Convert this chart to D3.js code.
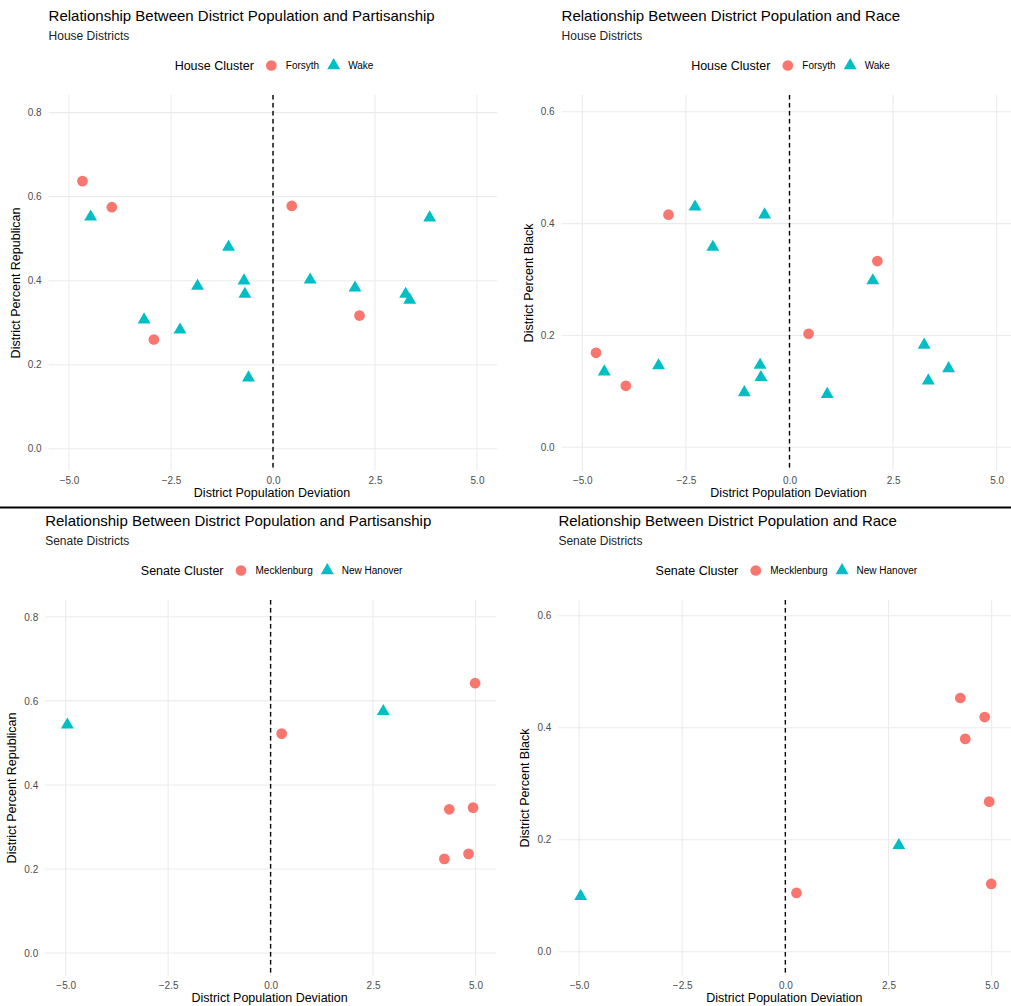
<!DOCTYPE html>
<html>
<head>
<meta charset="utf-8">
<script src="https://cdn.jsdelivr.net/npm/d3@7"></script>
<style>
  body { margin: 0; background: #fff; }
  svg { display: block; font-family: "Liberation Sans", Arial, Helvetica, sans-serif; }
</style>
</head>
<body>
<div id="chart"></div>
<script>
// house clusters: population deviation (%) and district shares
const houseForsythDev   = [-4.67, -3.95, -2.92, 0.46, 2.12];
const houseForsythRep   = [0.637, 0.575, 0.260, 0.578, 0.317];
const houseForsythBlack = [0.169, 0.110, 0.416, 0.203, 0.333];

const houseWakeDev   = [-4.47, -3.16, -2.28, -1.85, -1.09, -0.71, -0.69, -0.60, 0.91, 2.01, 3.25, 3.35, 3.84];
const houseWakeRep   = [0.552, 0.307, 0.283, 0.387, 0.480, 0.400, 0.368, 0.169, 0.402, 0.383, 0.368, 0.354, 0.550];
const houseWakeBlack = [0.135, 0.146, 0.430, 0.358, 0.098, 0.147, 0.125, 0.416, 0.095, 0.298, 0.183, 0.119, 0.141];

// senate clusters
const senateMeckDev   = [0.27, 4.24, 4.36, 4.83, 4.94, 4.99];
const senateMeckRep   = [0.522, 0.224, 0.342, 0.236, 0.346, 0.642];
const senateMeckBlack = [0.105, 0.453, 0.380, 0.419, 0.268, 0.121];

const senateHanDev   = [-4.96, 2.75];
const senateHanRep   = [0.543, 0.575];
const senateHanBlack = [0.099, 0.190];

const xTicks = [-5, -2.5, 0, 2.5, 5];
const repTicks = [0, 0.2, 0.4, 0.6, 0.8];
const blackTicks = [0, 0.2, 0.4, 0.6];

const W = 1011, H = 1006;
const RED = "#F8766D", TEAL = "#00BFC4";

const svg = d3.select("#chart").append("svg")
  .attr("width", W)
  .attr("height", H);

const zip = (xs, ys) => xs.map((x, i) => ({ x: x, y: ys[i] }));

const fmt = d3.format(".1f");

const drawPanel = (p) => {
  const g = svg.append("g").attr("transform", "translate(0," + p.dy + ")");

  const x = d3.scaleLinear().domain([-5.5, 5.5]).range(p.xRange);
  const y = d3.scaleLinear().domain(p.yDomain).range([471, 95]);
  const L = p.xRange[0], R = p.xRange[1];

  // grid
  g.append("g").selectAll("line.h")
    .data(p.yTicks).enter().append("line")
    .attr("x1", L).attr("x2", R)
    .attr("y1", d => y(d)).attr("y2", d => y(d))
    .attr("stroke", "#EBEBEB").attr("stroke-width", 1.1);
  g.append("g").selectAll("line.v")
    .data(xTicks).enter().append("line")
    .attr("x1", d => x(d)).attr("x2", d => x(d))
    .attr("y1", 95).attr("y2", 471)
    .attr("stroke", "#EBEBEB").attr("stroke-width", 1.1);

  // axes, text only
  const xAxis = d3.axisBottom(x).tickValues(xTicks).tickFormat(fmt).tickSize(0).tickPadding(6);
  const gx = g.append("g").attr("transform", "translate(0,471)").call(xAxis);
  gx.select(".domain").remove();
  gx.selectAll("text").attr("font-size", 10).attr("fill", "#4D4D4D").attr("font-family", null);

  const yAxis = d3.axisLeft(y).tickValues(p.yTicks).tickFormat(fmt).tickSize(0).tickPadding(7);
  const gy = g.append("g").attr("transform", "translate(" + L + ",0)").call(yAxis);
  gy.select(".domain").remove();
  gy.selectAll("text").attr("font-size", 10).attr("fill", "#4D4D4D").attr("font-family", null);

  // zero reference
  g.append("line")
    .attr("x1", x(0)).attr("x2", x(0))
    .attr("y1", 95).attr("y2", 471)
    .attr("stroke", "#000").attr("stroke-width", 1.4)
    .attr("stroke-dasharray", "4.5,3.5");

  // points
  const red = zip(p.groups[0].dev, p.groups[0].val);
  const teal = zip(p.groups[1].dev, p.groups[1].val);

  g.append("g").selectAll("path")
    .data(red).enter().append("path")
    .attr("d", d3.symbol(d3.symbolCircle, 90))
    .attr("transform", d => "translate(" + x(d.x) + "," + y(d.y) + ")")
    .attr("fill", RED);

  g.append("g").selectAll("path")
    .data(teal).enter().append("path")
    .attr("d", d3.symbol(d3.symbolTriangle, 72))
    .attr("transform", d => "translate(" + x(d.x) + "," + y(d.y) + ")")
    .attr("fill", TEAL);

  // titles
  g.append("text").text(p.title)
    .attr("x", L).attr("y", 21)
    .attr("font-size", 15).attr("fill", "#000");
  g.append("text").text(p.subtitle)
    .attr("x", L).attr("y", 39.5)
    .attr("font-size", 12).attr("fill", "#222");

  g.append("text").text("District Population Deviation")
    .attr("x", (L + R) / 2 - 1).attr("y", 497)
    .attr("text-anchor", "middle")
    .attr("font-size", 12.5).attr("fill", "#000");

  g.append("text").text(p.yLabel)
    .attr("transform", "translate(" + (L - 29) + "," + 283 + ") rotate(-90)")
    .attr("text-anchor", "middle")
    .attr("font-size", 12.5).attr("fill", "#000");

  // legend
  const leg = g.append("g");
  const lt = leg.append("text").text(p.legendTitle)
    .attr("y", 70).attr("font-size", 12.5).attr("fill", "#000");
  let cx = lt.node().getComputedTextLength() + 9;
  p.groups.forEach((grp, i) => {
    leg.append("path")
      .attr("d", d3.symbol(i === 0 ? d3.symbolCircle : d3.symbolTriangle, i === 0 ? 90 : 72))
      .attr("transform", "translate(" + (cx + 8.5) + "," + 65.5 + ")")
      .attr("fill", i === 0 ? RED : TEAL);
    cx += 17 + 6;
    const t = leg.append("text").text(grp.name)
      .attr("x", cx).attr("y", 69)
      .attr("font-size", 10).attr("fill", "#000");
    cx += t.node().getComputedTextLength() + 6;
  });
  const legW = cx - 6;
  leg.attr("transform", "translate(" + ((L + R) / 2 + 1 - legW / 2) + ",0)");
};

const panels = [
  {
    dy: 0, xRange: [48.6, 497.4], yDomain: [-0.053, 0.842], yTicks: repTicks,
    title: "Relationship Between District Population and Partisanship",
    subtitle: "House Districts", legendTitle: "House Cluster",
    yLabel: "District Percent Republican",
    groups: [
      { name: "Forsyth", dev: houseForsythDev, val: houseForsythRep },
      { name: "Wake", dev: houseWakeDev, val: houseWakeRep }
    ]
  },
  {
    dy: 0, xRange: [561.6, 1017.4], yDomain: [-0.0424, 0.630], yTicks: blackTicks,
    title: "Relationship Between District Population and Race",
    subtitle: "House Districts", legendTitle: "House Cluster",
    yLabel: "District Percent Black",
    groups: [
      { name: "Forsyth", dev: houseForsythDev, val: houseForsythBlack },
      { name: "Wake", dev: houseWakeDev, val: houseWakeBlack }
    ]
  },
  {
    dy: 505, xRange: [45.2, 496], yDomain: [-0.0546, 0.840], yTicks: repTicks,
    title: "Relationship Between District Population and Partisanship",
    subtitle: "Senate Districts", legendTitle: "Senate Cluster",
    yLabel: "District Percent Republican",
    groups: [
      { name: "Mecklenburg", dev: senateMeckDev, val: senateMeckRep },
      { name: "New Hanover", dev: senateHanDev, val: senateHanRep }
    ]
  },
  {
    dy: 505, xRange: [558.4, 1012.3], yDomain: [-0.0433, 0.628], yTicks: blackTicks,
    title: "Relationship Between District Population and Race",
    subtitle: "Senate Districts", legendTitle: "Senate Cluster",
    yLabel: "District Percent Black",
    groups: [
      { name: "Mecklenburg", dev: senateMeckDev, val: senateMeckBlack },
      { name: "New Hanover", dev: senateHanDev, val: senateHanBlack }
    ]
  }
];

panels.forEach(drawPanel);

// separator between house and senate rows
svg.append("line")
  .attr("x1", 0).attr("x2", W)
  .attr("y1", 507.5).attr("y2", 507.5)
  .attr("stroke", "#000").attr("stroke-width", 1.8);
</script>
</body>
</html>
